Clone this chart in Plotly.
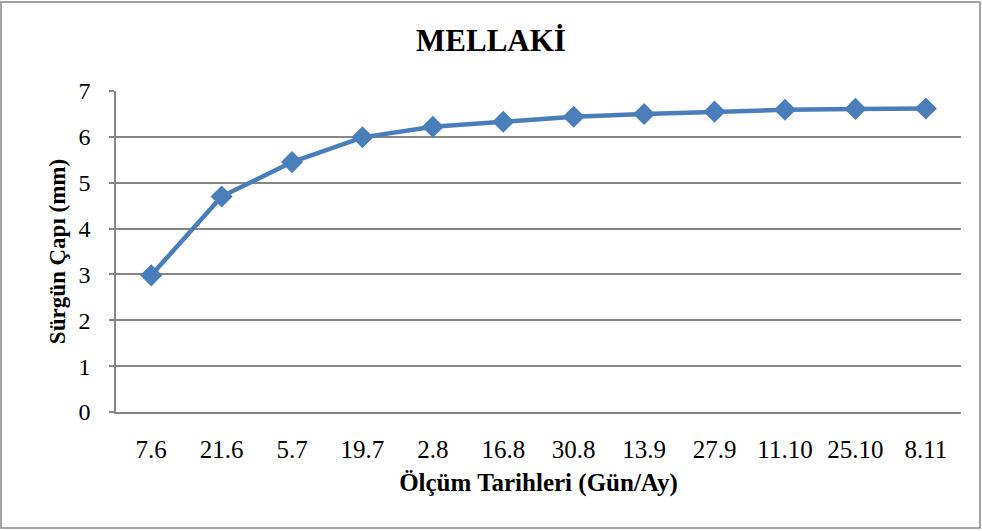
import plotly.graph_objects as go

dates = ["7.6", "21.6", "5.7", "19.7", "2.8", "16.8", "30.8", "13.9", "27.9", "11.10", "25.10", "8.11"]
diameter = [2.98, 4.70, 5.45, 5.99, 6.22, 6.33, 6.44, 6.50, 6.55, 6.59, 6.61, 6.62]

serif = "Liberation Serif, Times New Roman, serif"
grid = "#868686"

fig = go.Figure()
fig.add_trace(go.Scatter(
    x=dates, y=diameter, mode="lines+markers",
    line=dict(color="#4a7ebb", width=4.5),
    marker=dict(symbol="diamond", size=17, color="#4a7ebb"),
    showlegend=False,
))

fig.update_layout(
    width=982, height=531,
    margin=dict(l=116, r=21, t=91, b=119),
    paper_bgcolor="white", plot_bgcolor="white",
    font=dict(family=serif, color="black"),
    title=dict(text="<b>MELLAKİ</b>", x=0.5, xanchor="center", y=0.925, yanchor="middle",
               font=dict(size=31, family=serif)),
    shapes=[dict(type="rect", xref="paper", yref="paper",
                 x0=-115 / 845, x1=1 + 19 / 845, y0=-116 / 321, y1=1 + 89 / 321,
                 line=dict(color="#868686", width=1.5))],
)
fig.update_xaxes(
    type="category", range=[-0.5, 11.5],
    showline=True, linecolor=grid, linewidth=1.5, showgrid=False,
    ticks="", ticklabelstandoff=14, tickfont=dict(size=25),
    title=dict(text="<b>Ölçüm Tarihleri (Gün/Ay)</b>", font=dict(size=25), standoff=12),
)
fig.update_yaxes(
    range=[0, 7], dtick=1,
    showline=True, linecolor=grid, linewidth=1.5,
    showgrid=True, gridcolor=grid, gridwidth=1.5,
    ticks="outside", ticklen=5, tickcolor=grid, tickwidth=1.5,
    ticklabelstandoff=14, tickfont=dict(size=24),
    title=dict(text="<b>Sürgün Çapı (mm)</b>", font=dict(size=23), standoff=6),
    zeroline=False,
)

fig.write_html("out.html", config={"displayModeBar": False},
               post_script="document.body.style.margin='0';")
